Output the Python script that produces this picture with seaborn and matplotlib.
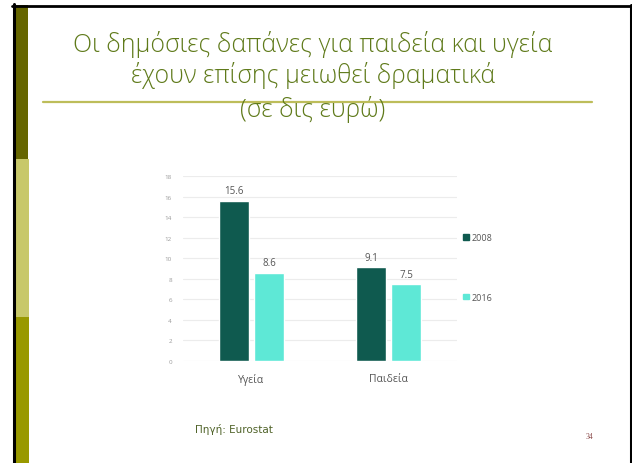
import matplotlib
matplotlib.use("Agg")
import matplotlib.pyplot as plt
from matplotlib.patches import Rectangle
from matplotlib.lines import Line2D
import seaborn as sns
import pandas as pd

# data
categories = ["Υγεία", "Παιδεία"]
years = ["2008", "2016"]
values_2008 = [15.6, 9.1]
values_2016 = [8.6, 7.5]
yticks = [0, 2, 4, 6, 8, 10, 12, 14, 16, 18]

title_lines = ["Οι δημόσιες δαπάνες για παιδεία και υγεία",
               "έχουν επίσης μειωθεί δραματικά",
               "(σε δις ευρώ)"]
source_text = "Πηγή: Eurostat"
page_no = "34"

df = pd.DataFrame({
    "cat": categories * 2,
    "year": [years[0]] * 2 + [years[1]] * 2,
    "val": values_2008 + values_2016,
})

sns.set_theme(style="white")
plt.rcParams['font.family'] = ['Open Sans', 'DejaVu Sans']

fig = plt.figure(figsize=(6.32, 4.64), dpi=100)
W, H = 632, 464

def fx(x):
    return x / W

def fy(y):
    return 1 - y / H

# slide frame
fig.add_artist(Rectangle((fx(15), 0), fx(14), fy(318), color="#999900", lw=0))
fig.add_artist(Rectangle((fx(15), fy(318)), fx(14), fy(160) - fy(318), color="#c8c86a", lw=0))
fig.add_artist(Rectangle((fx(15), fy(160)), fx(13), fy(6) - fy(160), color="#666600", lw=0))
fig.add_artist(Line2D([fx(13.5), fx(13.5)], [0, fy(5)], color="black", lw=2.2))
fig.add_artist(Line2D([fx(12), 1], [fy(6.5), fy(6.5)], color="black", lw=2))
fig.add_artist(Line2D([fx(630.5), fx(630.5)], [0, fy(6)], color="black", lw=2.2))
fig.add_artist(Line2D([fx(43), fx(592)], [fy(103), fy(103)], color="#bdbd5a", lw=1.6))

title_color = "#5f7a1a"
for t, y in zip(title_lines, [45, 76, 110]):
    fig.text(fx(313), fy(y), t, ha="center", va="center", fontsize=17.9,
             color=title_color, fontweight="light")

fig.text(fx(195), fy(430), source_text, ha="left", va="center", fontsize=7.5,
         color="#4f6228", family=["Verdana", "DejaVu Sans"])
fig.text(fx(589), fy(437), page_no, ha="center", va="center", fontsize=5.5,
         color="#8b4a4a", family=["Liberation Serif", "DejaVu Serif"])

# chart
ax = fig.add_axes([fx(183), fy(362), fx(457) - fx(183), fy(177) - fy(362)])
palette = {"2008": "#0f5a4f", "2016": "#5ee8d6"}
sns.barplot(data=df, x="cat", y="val", hue="year", palette=palette,
            width=0.51, gap=0.12, saturation=1, ax=ax, legend=False)

ax.set_ylim(0, 18)
ax.set_xlim(-0.5, 1.5)
ax.set_yticks(yticks)
ax.set_yticklabels([str(v) for v in yticks])
ax.yaxis.grid(True, color="#ececec", lw=0.8)
ax.set_axisbelow(True)
for s in ax.spines.values():
    s.set_visible(False)
ax.tick_params(axis="y", labelsize=4.5, labelcolor="#9a9a9a", pad=8, length=0)
ax.tick_params(axis="x", labelsize=7.5, labelcolor="#555555", pad=9, length=0)
ax.set_xlabel("")
ax.set_ylabel("")

for c in ax.containers:
    ax.bar_label(c, fmt="%.1f", padding=3, fontsize=7, color="#555555")

handles = [Rectangle((0, 0), 1, 1, color=palette[y]) for y in years]
fig.legend(handles, years, loc="upper left", bbox_to_anchor=(fx(455), fy(226)),
           frameon=False, fontsize=6.5, handlelength=0.6, handleheight=0.6,
           handletextpad=0.3, labelspacing=5.6, labelcolor="#555555")

fig.savefig("out.png", dpi=100)
